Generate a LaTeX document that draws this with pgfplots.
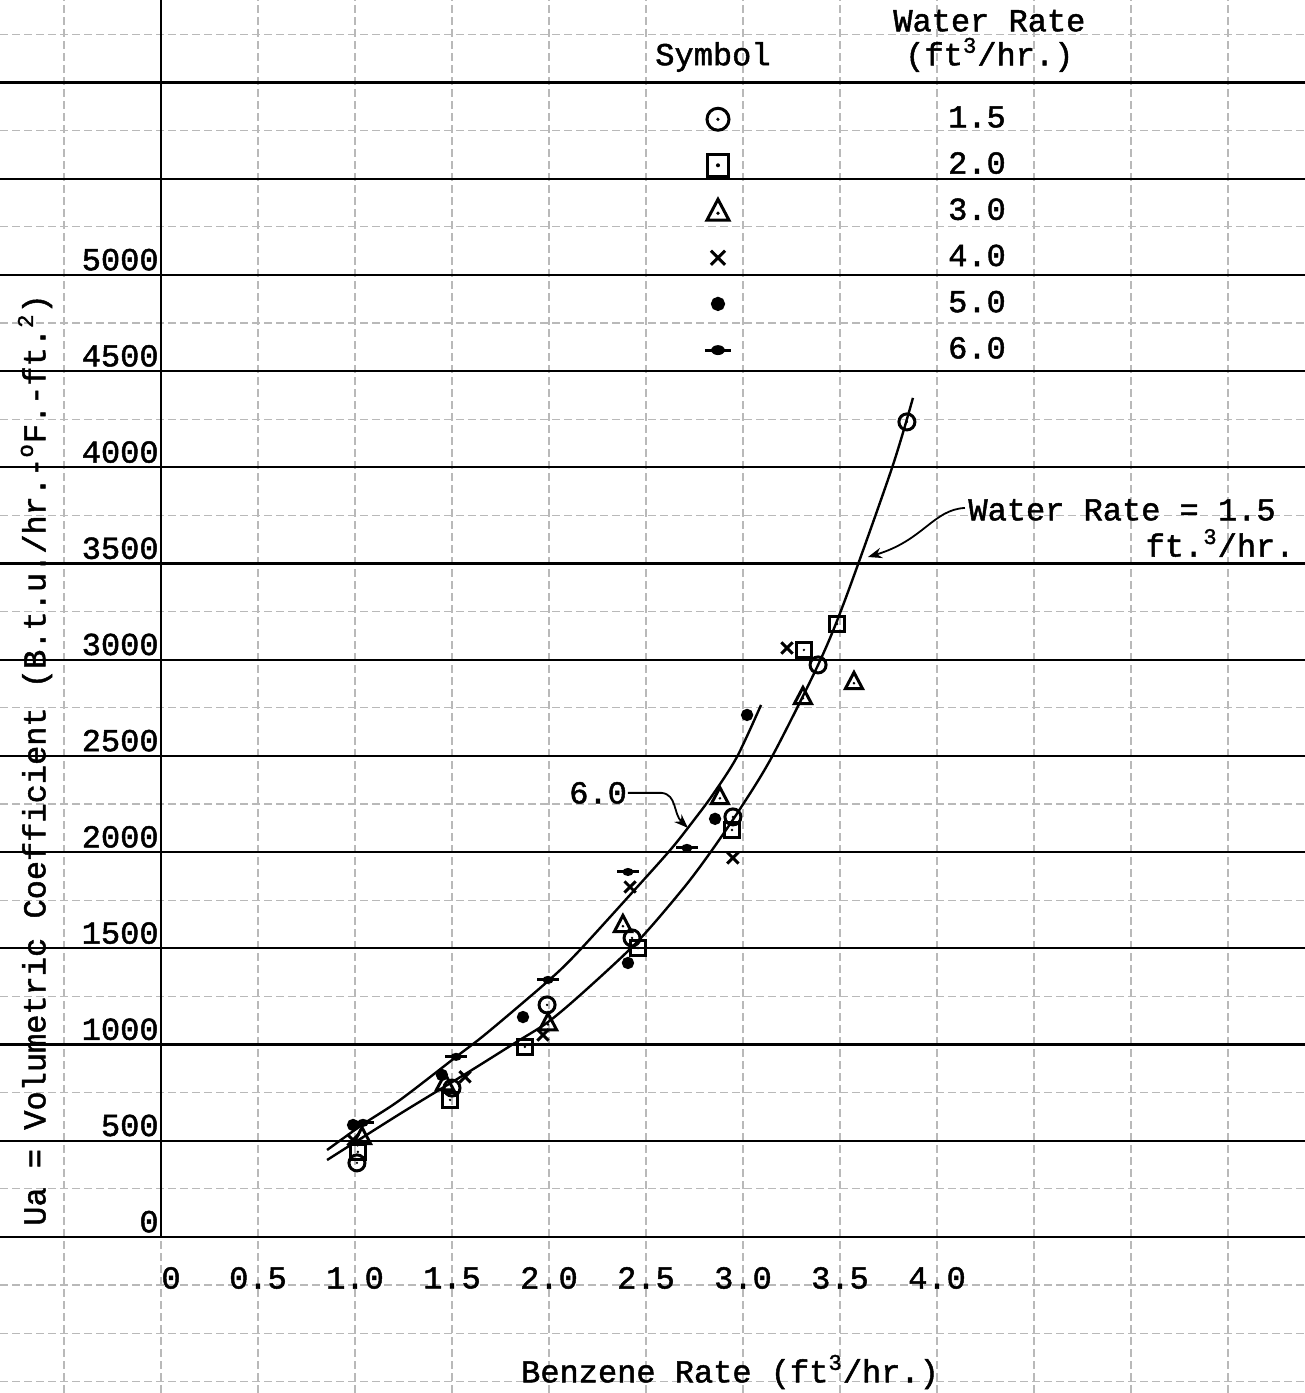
\documentclass[border=0pt]{standalone}
\usepackage{fontspec}
\setmainfont{Liberation Mono}[FakeBold=1.5]
\usepackage{pgfplots}
\pgfplotsset{compat=1.18}
\usetikzlibrary{arrows.meta}

% typed symbols of the original sheet
\pgfdeclareplotmark{odot}{%
  \pgfpathcircle{\pgfpointorigin}{\pgfplotmarksize}\pgfusepathqstroke
  \pgfpathcircle{\pgfpointorigin}{0.16\pgfplotmarksize}\pgfusepathqfill}
\pgfdeclareplotmark{sqdot}{%
  \pgfpathrectangle{\pgfqpoint{-0.85\pgfplotmarksize}{-0.85\pgfplotmarksize}}{\pgfqpoint{1.7\pgfplotmarksize}{1.7\pgfplotmarksize}}\pgfusepathqstroke
  \pgfpathcircle{\pgfpointorigin}{0.16\pgfplotmarksize}\pgfusepathqfill}
\pgfdeclareplotmark{tridot}{%
  \pgfpathmoveto{\pgfqpoint{0pt}{1.05\pgfplotmarksize}}%
  \pgfpathlineto{\pgfqpoint{-0.95\pgfplotmarksize}{-0.75\pgfplotmarksize}}%
  \pgfpathlineto{\pgfqpoint{0.95\pgfplotmarksize}{-0.75\pgfplotmarksize}}%
  \pgfpathclose\pgfusepathqstroke
  \pgfpathcircle{\pgfqpoint{0pt}{-0.15\pgfplotmarksize}}{0.16\pgfplotmarksize}\pgfusepathqfill}
\pgfdeclareplotmark{bardot}{%
  \pgfpathellipse{\pgfpointorigin}{\pgfqpoint{0.62\pgfplotmarksize}{0pt}}{\pgfqpoint{0pt}{0.45\pgfplotmarksize}}\pgfusepathqfill
  \pgfpathmoveto{\pgfqpoint{-1.2\pgfplotmarksize}{0pt}}\pgfpathlineto{\pgfqpoint{1.2\pgfplotmarksize}{0pt}}\pgfusepathqstroke}

\pgfplotsset{
  datapts/.style={only marks, black, line width=1.5pt, mark options={solid, fill=black, line width=1.5pt}},
  legmark/.style={legend image code/.code={%
    \draw[mark repeat=2,mark phase=2,##1,mark size=#1] plot coordinates {(0cm,0cm) (0.3cm,0cm) (0.6cm,0cm)};}}}

\begin{document}
\fontsize{16}{19}\selectfont
\begin{tikzpicture}
\begin{axis}[
  width=652.5pt, height=696.5pt, scale only axis,
  xmin=-0.83, xmax=5.897, ymin=-811, ymax=6429,
  axis line style={draw=none},
  major tick length=0pt, minor tick length=0pt,
  xtick={-0.5,0,...,5.5},
  xticklabels={,\hspace{10pt}0,0.5,1.0,1.5,2.0,2.5,3.0,3.5,4.0,,,},
  ytick={0,500,...,6000},
  yticklabels={0,500,1000,1500,2000,2500,3000,3500,4000,4500,5000,,},
  minor ytick={-750,-500,-250,250,750,...,6250},
  xmajorgrids, ymajorgrids, yminorgrids,
  major x grid style={gray!55, line width=0.6pt, dash pattern=on 4pt off 2pt},
  major y grid style={black, line width=1.1pt},
  minor y grid style={gray!55, line width=0.6pt, dash pattern=on 4pt off 2pt},
  xticklabel style={anchor=center, yshift=57.5pt},
  yticklabel style={anchor=south east, inner sep=2pt, xshift=81.5pt},
  xlabel={Benzene Rate (ft\textsuperscript{3}/hr.)},
  xlabel style={at={(rel axis cs:0.5594,0.0151)}, anchor=center},
  ylabel={Ua = Volumetric Coefficient (B.t.u./hr.-\textsuperscript{o}F.-ft.\textsuperscript{2})},
  ylabel style={at={(rel axis cs:0.0268,0.4544)}, anchor=center},
  legend style={at={(axis cs:2.77,5920)}, anchor=north west, draw=none, fill=none,
    row sep=6pt, /tikz/every odd column/.append style={column sep=106.5pt}},
  legend cell align=left,
]
% drawn curves
\addplot[forget plot, black, line width=1.2pt, smooth] coordinates {
  (0.856,400) (1.232,640) (1.577,852) (1.835,1015) (1.995,1117) (2.175,1270)
  (2.454,1533) (2.691,1810) (2.83,1996) (2.985,2225) (3.149,2495) (3.387,2973)
  (3.526,3311) (3.768,3997) (3.876,4361)};
\addplot[forget plot, black, line width=1.2pt, smooth] coordinates {
  (0.856,452) (1.04,585) (1.232,712) (1.521,936) (1.68,1060) (1.995,1330)
  (2.144,1475) (2.418,1778) (2.624,2010) (2.742,2160) (2.845,2300) (2.969,2495)
  (3.093,2765)};

% water rate 1.5
\addplot[datapts, mark=odot, mark size=4pt, legmark=5.5pt] coordinates {
  (3.845,4236) (3.387,2973) (2.948,2183) (2.428,1554) (1.990,1206) (1.500,774) (1.010,385)};
% water rate 2.0
\addplot[datapts, mark=sqdot, mark size=4.2pt, legmark=6.3pt] coordinates {
  (3.485,3186) (3.314,3051) (2.943,2115) (2.459,1502) (1.876,988) (1.490,712) (1.015,442)};
% water rate 3.0
\addplot[datapts, mark=tridot, mark size=4.5pt, legmark=5.8pt] coordinates {
  (3.572,2885) (3.309,2807) (2.881,2287) (2.381,1622) (1.995,1112) (1.464,800) (1.036,520)};
% water rate 4.0
\addplot[datapts, mark=x, mark size=4pt, legmark=5pt] coordinates {
  (3.227,3061) (2.948,1970) (2.418,1819) (1.969,1050) (1.567,832) (0.990,504)};
% water rate 5.0
\addplot[datapts, mark=*, mark size=2.3pt, legmark=2.8pt] coordinates {
  (3.021,2713) (2.856,2173) (2.407,1424) (1.866,1143) (1.448,842) (0.990,582)};
% water rate 6.0
\addplot[datapts, mark=bardot, mark size=4.5pt, legmark=5.5pt] coordinates {
  (2.711,2022) (2.407,1897) (1.995,1336) (1.521,936) (1.041,593)};
\legend{1.5,2.0,3.0,4.0,5.0,6.0}

% heavy ordinate line
\draw[black, line width=1.4pt] (axis cs:0,0) -- (axis cs:0,6429);

% table heading
\node at (axis cs:2.845,6133) {Symbol};
\node[align=center, inner sep=0pt] at (axis cs:4.27,6216) {Water Rate\\[-2pt](ft\textsuperscript{3}/hr.)};

% curve labels
\node[anchor=west, inner sep=0pt] at (axis cs:4.16,3779) {Water Rate = 1.5};
\node[anchor=east, inner sep=0pt] at (axis cs:5.845,3607) {ft.\textsuperscript{3}/hr.};
\draw[-{Stealth[length=7pt]}, line width=0.9pt] (axis cs:4.144,3789)
  .. controls (axis cs:3.98,3780) and (axis cs:3.93,3620) .. (axis cs:3.644,3534);
\node at (axis cs:2.253,2308) {6.0};
\draw[-{Stealth[length=7pt]}, line width=0.9pt] (axis cs:2.407,2308) -- (axis cs:2.58,2308)
  .. controls (axis cs:2.66,2300) and (axis cs:2.64,2200) .. (axis cs:2.716,2126);
\end{axis}
\pgfresetboundingbox
\useasboundingbox (current axis.south west) rectangle (current axis.north east);
\end{tikzpicture}
\end{document}
